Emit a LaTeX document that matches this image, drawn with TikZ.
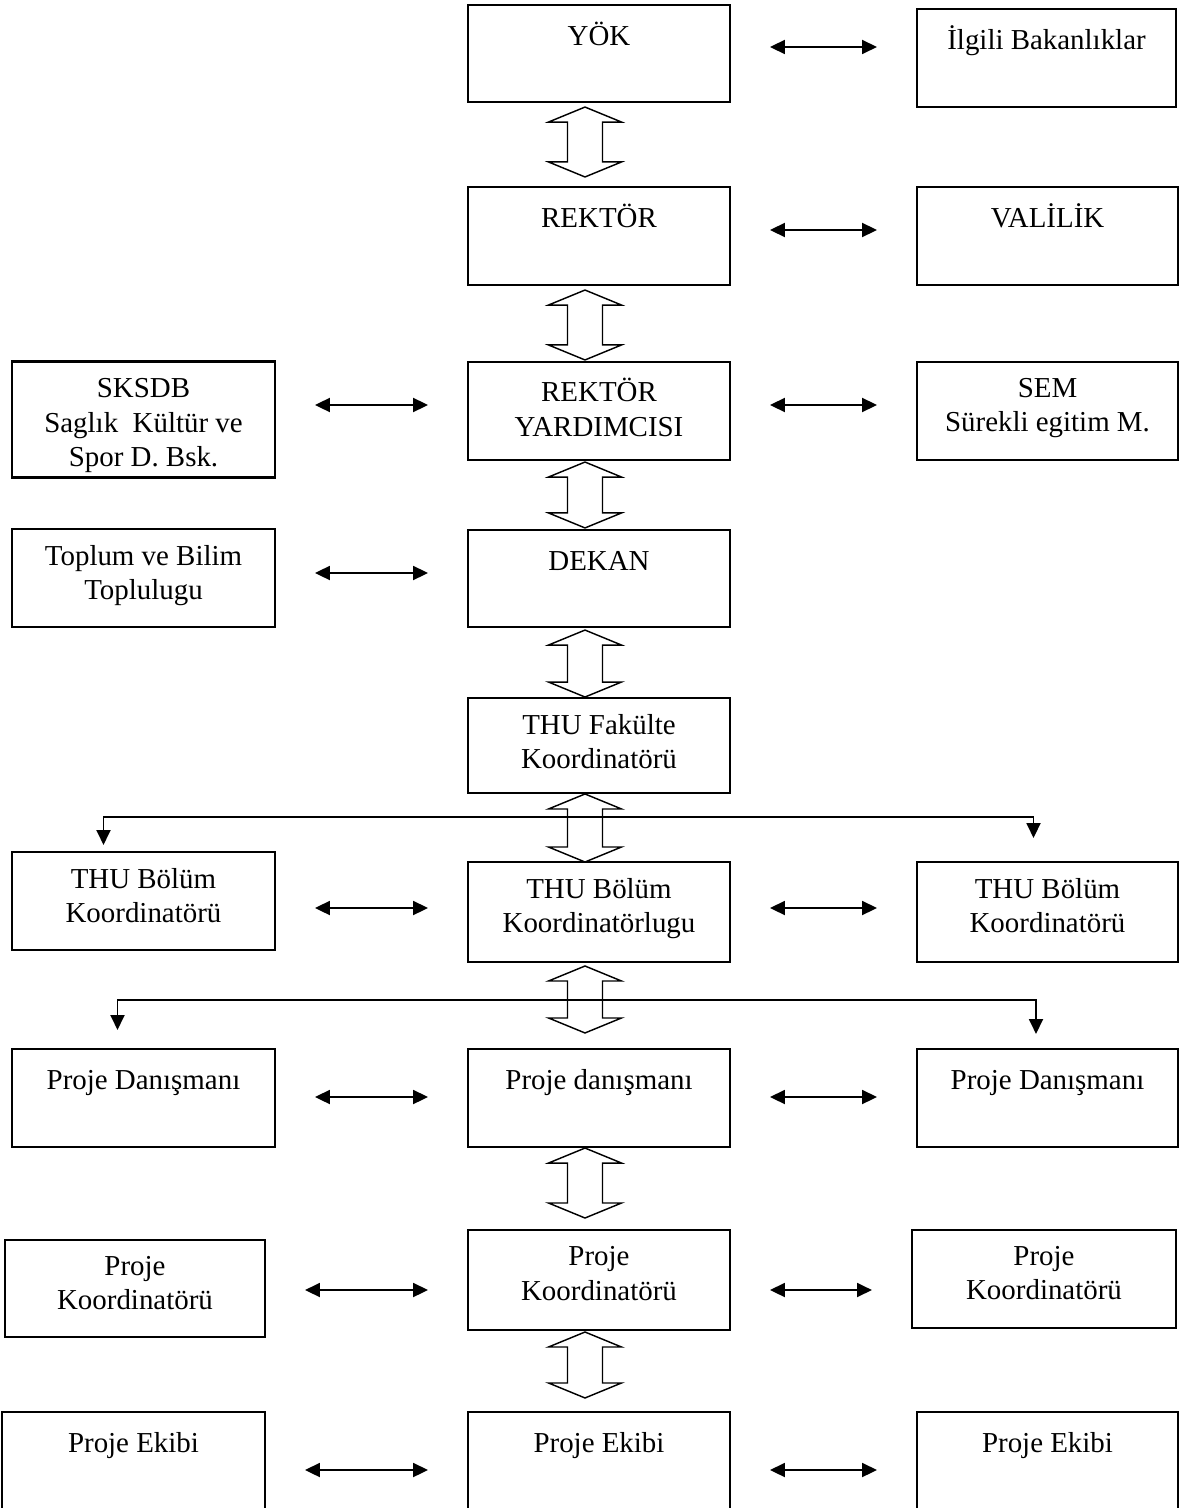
\documentclass[tikz,border=0pt]{standalone}
\usepackage{fontspec}
\setmainfont{Liberation Serif}
\usetikzlibrary{arrows.meta,calc}

% hollow two-headed arrow between two boxes of the centre column
\newcommand\fatarrow[4]{%
  \draw[fat] ($(#1.south)+(-14,#3)$) coordinate (fat top)
    -- ++(36.5,15) -- ++(-19,0)
    -- ($(#2.north)+(3.5,-#4-15)$) -- ++(19,0)
    -- ($(#2.north)+(-14,-#4)$)
    -- ++(-36.5,-15) -- ++(19,0)
    -- ($(fat top)+(-17.5,15)$) -- ++(-19,0) -- cycle;
}

\begin{document}
\begin{tikzpicture}[x=0.415pt, y=-0.415pt,
  >={Triangle[length=6.2pt,width=5.8pt]},
  box/.style={draw, line width=0.9pt, minimum width=108.7pt, minimum height=40.7pt,
    inner sep=0pt, outer sep=0pt},
  lbl/.style={anchor=north, inner sep=0pt, align=center, yshift=-6.6pt,
    font=\fontsize{12}{14.3}\selectfont, execute at begin node=\strut},
  link/.style={<->, line width=0.8pt, shorten <=16.6pt, shorten >=16.6pt},
  branch/.style={<->, line width=0.8pt},
  fat/.style={line width=0.6pt, line join=miter}]

\useasboundingbox (0,0) rectangle (1178,1508);

% CENTRE COLUMN
\node[box, minimum height=40.3pt, label={[lbl]north:YÖK}] (yok) at (599,53.5) {};
\node[box, label={[lbl]north:REKTÖR}] (rektor) at (599,236) {};
\node[box, label={[lbl]north:REKTÖR\\YARDIMCISI}] (ryard) at (599,411) {};
\node[box, minimum height=40.3pt, label={[lbl]north:DEKAN}] (dekan) at (599,578.5) {};
\node[box, minimum height=39.4pt, label={[lbl]north:THU Fakülte\\Koordinatörü}] (thufak) at (599,745.5) {};
\node[box, minimum height=41.5pt, label={[lbl]north:THU Bölüm\\Koordinatörlugu}] (thubk) at (599,912) {};
\node[box, label={[lbl]north:Proje danışmanı}] (pdan) at (599,1098) {};
\node[box, minimum height=41.5pt, label={[lbl]north:Proje\\Koordinatörü}] (pkoord) at (599,1280) {};
\node[box, label={[lbl]north:Proje Ekibi}] (pekip) at (599,1461) {};

% RIGHT COLUMN
\node[box, minimum width=107.5pt, label={[lbl]north:İlgili Bakanlıklar}] (bakan) at (1046.5,58) {};
\node[box, minimum width=108.3pt, label={[lbl]north:VALİLİK}] (valilik) at (1047.5,236) {};
\node[box, minimum width=108.3pt, label={[lbl]north:SEM\\Sürekli egitim M.}] (sem) at (1047.5,411) {};
\node[box, minimum width=108.3pt, minimum height=41.5pt, label={[lbl]north:THU Bölüm\\Koordinatörü}] (thubkr) at (1047.5,912) {};
\node[box, minimum width=108.3pt, label={[lbl]north:Proje Danışmanı}] (pdanr) at (1047.5,1098) {};
\node[box, minimum width=109.6pt, label={[lbl]north:Proje\\Koordinatörü}] (pkoordr) at (1044,1279) {};
\node[box, minimum width=108.3pt, label={[lbl]north:Proje Ekibi}] (pekipr) at (1047.5,1461) {};

% LEFT COLUMN
\node[box, minimum width=109.1pt, minimum height=48.1pt,
  label={[lbl, font=\fontsize{12}{14.5}\selectfont]north:SKSDB\\Saglık\ \ Kültür ve\\Spor D. Bsk.}] (sksdb) at (143.5,419.5) {};
\node[box, minimum width=109.1pt, label={[lbl]north:Toplum ve Bilim\\Toplulugu}] (toplum) at (143.5,578) {};
\node[box, minimum width=109.1pt, label={[lbl]north:THU Bölüm\\Koordinatörü}] (thubkl) at (143.5,901) {};
\node[box, minimum width=109.1pt, label={[lbl]north:Proje Danışmanı}] (pdanl) at (143.5,1098) {};
\node[box, minimum width=107.9pt, minimum height=40.3pt, label={[lbl]north:Proje\\Koordinatörü}] (pkoordl) at (135,1288.5) {};
\node[box, minimum width=109.1pt, label={[lbl]north:Proje Ekibi}] (pekipl) at (133.5,1461) {};

% hollow arrows down the centre
\fatarrow{yok}{rektor}{5}{10}
\fatarrow{rektor}{ryard}{5}{2}
\fatarrow{ryard}{dekan}{2}{2}
\fatarrow{dekan}{thufak}{3}{1}
\fatarrow{thufak}{thubk}{1}{0}
\fatarrow{thubk}{pdan}{4}{16}
\fatarrow{pdan}{pkoord}{1}{12}
\fatarrow{pkoord}{pekip}{2}{14}

% side links
\draw[link] (yok.east |- 0,47) -- (bakan.west |- 0,47);
\draw[link] (rektor.east |- 0,230) -- (valilik.west |- 0,230);
\draw[link] (sksdb.east |- 0,405) -- (ryard.west |- 0,405);
\draw[link] (ryard.east |- 0,405) -- (sem.west |- 0,405);
\draw[link] (toplum.east |- 0,573) -- (dekan.west |- 0,573);
\draw[link] (thubkl.east |- 0,908) -- (thubk.west |- 0,908);
\draw[link] (thubk.east |- 0,908) -- (thubkr.west |- 0,908);
\draw[link] (pdanl.east |- 0,1097) -- (pdan.west |- 0,1097);
\draw[link] (pdan.east |- 0,1097) -- (pdanr.west |- 0,1097);
\draw[link] (pkoordl.east |- 0,1290) -- (pkoord.west |- 0,1290);
\draw[link] (pkoord.east |- 0,1290) -- (pkoordr.west |- 0,1290);
\draw[link] (pekipl.east |- 0,1470) -- (pekip.west |- 0,1470);
\draw[link] (pekip.east |- 0,1470) -- (pekipr.west |- 0,1470);

% branches
\draw[branch] ($(thubkl.north)+(-40,-7)$) |- ($(thufak.south)+(0,24)$) -| ($(thubkr.north)+(-14,-24)$);
\draw[branch] ($(pdanl.north)+(-26,-19)$) |- ($(thubk.south)+(0,38)$) -| ($(pdanr.north)+(-11.5,-15)$);

\end{tikzpicture}
\end{document}
